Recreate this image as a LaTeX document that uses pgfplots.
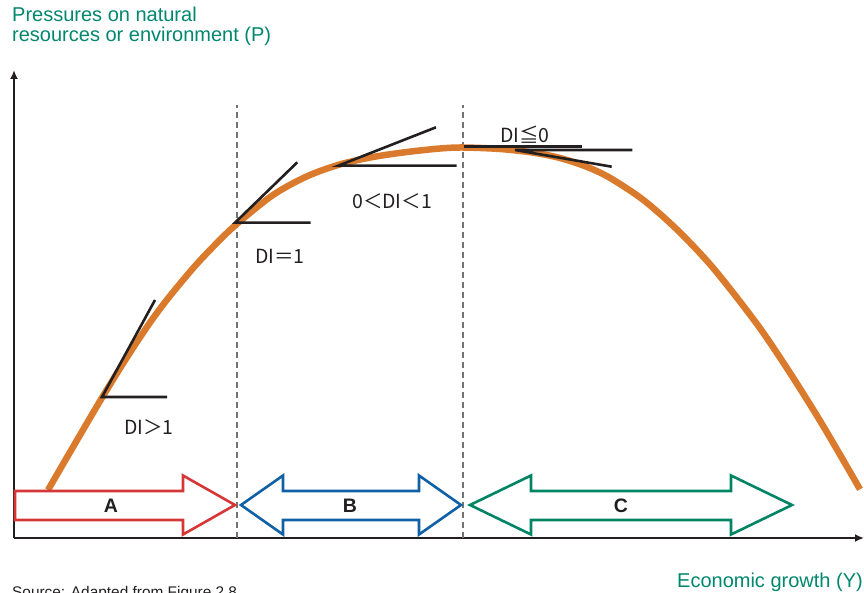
\documentclass[border=0pt]{standalone}
\usepackage{pgfplots}
\pgfplotsset{compat=1.18}
\usetikzlibrary{arrows.meta}
\usepackage{fontspec}
\setmainfont{Liberation Sans}
\newfontfamily\cjk{Noto Sans CJK SC}
\definecolor{tgreen}{RGB}{0,135,110}
\definecolor{cgreen}{RGB}{0,133,100}
\definecolor{ared}{RGB}{214,54,54}
\definecolor{ablue}{RGB}{16,96,166}
\definecolor{corange}{RGB}{218,122,44}
\definecolor{dgray}{RGB}{35,31,32}
\begin{document}
\begin{tikzpicture}
\begin{axis}[
  scale only axis, width=850pt, height=468pt,
  xmin=14, xmax=864, ymin=54, ymax=522,
  axis lines=left, xtick=\empty, ytick=\empty,
  axis line style={-{Latex[length=9pt,width=8pt]}, line width=2.2pt, draw=dgray},
  clip=false,
]
% dashed separators
\addplot[dash pattern=on 6pt off 4pt, line width=2.2pt, color=black!55] coordinates {(237,54) (237,487)};
\addplot[dash pattern=on 6pt off 4pt, line width=2.2pt, color=black!55] coordinates {(463,54) (463,487)};
% curve
\addplot[smooth, line width=6.5pt, color=corange] coordinates {
(48,102) (75,148.4) (102,194.3) (125,231.6) (148,266.6) (168,293.6) (195,326) (218,350.2)
(237,368.2) (273,397) (307,415.7) (340,427.6) (373,435) (407,440) (440,443.5) (463,444.5)
(500,443) (533,439.4) (560,434) (587,425.1) (610,414.1) (643,392.3) (677,362.4) (713,324.2)
(757,267.9) (790,219.1) (823,166.3) (860,102.7)};
% tangents
\addplot[line width=2.6pt, color=dgray] coordinates {(155,292) (102,195) (167,195)};
\addplot[line width=2.6pt, color=dgray] coordinates {(297.3,429.7) (235,369.3) (310.7,369.3)};
\addplot[line width=2.6pt, color=dgray] coordinates {(436,464.7) (338.3,426.3) (456.7,426.3)};
\addplot[line width=2.6pt, color=dgray] coordinates {(464,445.3) (581.7,445.3)};
\addplot[line width=2.6pt, color=dgray] coordinates {(632.3,442) (515,442) (611.7,425.3)};
% phase arrows
\addplot[line width=2.6pt, draw=ared, fill=white] coordinates {
(15,101) (183,101) (183,116.5) (235,87) (183,57.5) (183,72) (15,72)} -- cycle;
\addplot[line width=2.6pt, draw=ablue, fill=white] coordinates {
(241,87) (283,116.5) (283,101) (419,101) (419,116.5) (461,87) (419,57.5) (419,72) (283,72) (283,57.5)} -- cycle;
\addplot[line width=2.6pt, draw=cgreen, fill=white] coordinates {
(470,87) (531,116.5) (531,101) (731,101) (731,116.5) (792,87) (731,57.5) (731,72) (531,72) (531,57.5)} -- cycle;
% letters
\node[anchor=base, inner sep=0pt, font=\fontsize{19.5}{20}\selectfont\bfseries, text=dgray] at (axis cs:111,79.5) {A};
\node[anchor=base, inner sep=0pt, font=\fontsize{19.5}{20}\selectfont\bfseries, text=dgray] at (axis cs:350,79.5) {B};
\node[anchor=base, inner sep=0pt, font=\fontsize{19.5}{20}\selectfont\bfseries, text=dgray] at (axis cs:621,79.5) {C};
% DI labels
\node[anchor=base west, inner sep=0pt, font=\cjk\fontsize{19.5}{20}\selectfont, text=dgray] at (axis cs:124,158) {DI＞1};
\node[anchor=base west, inner sep=0pt, font=\cjk\fontsize{19.5}{20}\selectfont, text=dgray] at (axis cs:255,328) {DI＝1};
\node[anchor=base west, inner sep=0pt, font=\cjk\fontsize{19.5}{20}\selectfont, text=dgray] at (axis cs:352,383.5) {0＜DI＜1};
\node[anchor=base west, inner sep=0pt, font=\cjk\fontsize{19.5}{20}\selectfont, text=dgray] at (axis cs:500,449.7) {DI≦0};
% axis titles
\node[anchor=base west, inner sep=0pt, font=\fontsize{20}{20}\selectfont, text=tgreen] at (axis cs:12,570) {Pressures on natural};
\node[anchor=base west, inner sep=0pt, font=\fontsize{20}{20}\selectfont, text=tgreen] at (axis cs:12,550) {resources or environment (P)};
\node[anchor=base east, inner sep=0pt, font=\fontsize{20}{20}\selectfont, text=tgreen] at (axis cs:863,5) {Economic growth (Y)};
\node[anchor=base west, inner sep=0pt, font=\fontsize{15.4}{16}\selectfont, text=dgray] at (axis cs:12,-5) {Source: Adapted from Figure 2.8};
\coordinate (P0) at (axis cs:0,0);
\coordinate (P1) at (axis cs:864,592);
\end{axis}
\pgfresetboundingbox
\useasboundingbox (P0) rectangle (P1);
\end{tikzpicture}
\end{document}
